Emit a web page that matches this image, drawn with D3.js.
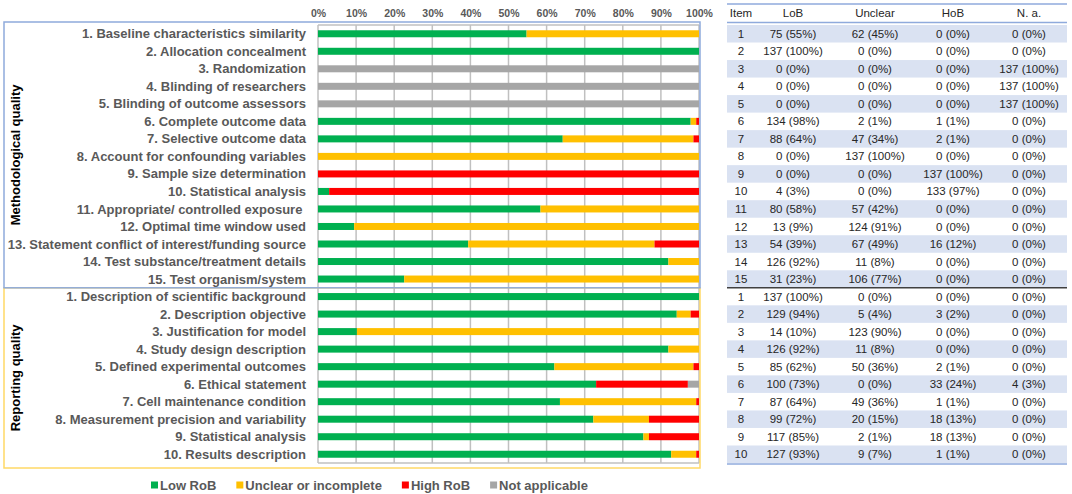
<!DOCTYPE html>
<html>
  <head>
    <meta http-equiv="Content-Type" content="text/html;charset=utf-8"/>
    <title>Risk of bias</title>
    <script src="https://d3js.org/d3.v7.min.js"></script>
    <style>
      body { margin: 0; background: #fff; }
      svg text { font-family: "Liberation Sans", Arial, sans-serif; }
    </style>
  </head>
  <body>
    <div id="content"></div>
    <script type="text/javascript">

      const total = 137

      const methItems = [
        '1. Baseline characteristics similarity',
        '2. Allocation concealment',
        '3. Randomization',
        '4. Blinding of researchers',
        '5. Blinding of outcome assessors',
        '6. Complete outcome data',
        '7. Selective outcome data',
        '8. Account for confounding variables',
        '9. Sample size determination',
        '10. Statistical analysis',
        '11. Appropriate/ controlled exposure ',
        '12. Optimal time window used',
        '13. Statement conflict of interest/funding source',
        '14. Test substance/treatment details',
        '15. Test organism/system'
      ]
      const repItems = [
        '1. Description of scientific background',
        '2. Description objective',
        '3. Justification for model',
        '4. Study design description',
        '5. Defined experimental outcomes',
        '6. Ethical statement',
        '7. Cell maintenance condition',
        '8. Measurement precision and variability',
        '9. Statistical analysis',
        '10. Results description'
      ]

      // counts per item, methodological 1-15 then reporting 1-10
      const lowRoB  = [75, 137, 0, 0, 0, 134, 88, 0, 0, 4, 80, 13, 54, 126, 31,
                       137, 129, 14, 126, 85, 100, 87, 99, 117, 127]
      const unclear = [62, 0, 0, 0, 0, 2, 47, 137, 0, 0, 57, 124, 67, 11, 106,
                       0, 5, 123, 11, 50, 0, 49, 20, 2, 9]
      const highRoB = [0, 0, 0, 0, 0, 1, 2, 0, 137, 133, 0, 0, 16, 0, 0,
                       0, 3, 0, 0, 2, 33, 1, 18, 18, 1]
      const notAppl = [0, 0, 137, 137, 137, 0, 0, 0, 0, 0, 0, 0, 0, 0, 0,
                       0, 0, 0, 0, 0, 4, 0, 0, 0, 0]

      const xTicks = [0, 0.1, 0.2, 0.3, 0.4, 0.5, 0.6, 0.7, 0.8, 0.9, 1]
      const legendNames = ['Low RoB', 'Unclear or incomplete', 'High RoB', 'Not applicable']
      const tableHeads = ['Item', 'LoB', 'Unclear', 'HoB', 'N. a.']

      const keys = ['low', 'unclear', 'high', 'na']
      const colors = { low: '#00b050', unclear: '#ffc000', high: '#ff0000', na: '#a6a6a6' }

      const rows = methItems.concat(repItems).map((name, i) => ({
        name: name,
        item: i < methItems.length ? i + 1 : i - methItems.length + 1,
        low: lowRoB[i], unclear: unclear[i], high: highRoB[i], na: notAppl[i]
      }))

      const width = 1072, height = 494
      const plotLeft = 318, plotRight = 699, plotTop = 25, plotBottom = 463
      const labelGray = '#595959'

      const svg = d3.select('#content').append('svg').attr('width', width).attr('height', height)

      const x = d3.scaleLinear().domain([0, 1]).range([plotLeft, plotRight])
      const y = d3.scaleBand().domain(d3.range(rows.length)).range([plotTop, plotBottom])
      const barH = 7

      // grid
      svg.append('g').selectAll('line')
        .data(xTicks)
        .enter()
        .append('line')
        .attr('x1', d => x(d)).attr('x2', d => x(d))
        .attr('y1', plotTop).attr('y2', plotBottom)
        .attr('stroke', '#c0c0c0').attr('stroke-width', 1.5)
      svg.append('line')
        .attr('x1', plotLeft).attr('x2', plotRight)
        .attr('y1', plotTop).attr('y2', plotTop)
        .attr('stroke', '#c0c0c0').attr('stroke-width', 1.5)
      svg.append('line')
        .attr('x1', plotLeft).attr('x2', plotRight)
        .attr('y1', plotBottom).attr('y2', plotBottom)
        .attr('stroke', '#c0c0c0').attr('stroke-width', 1.5)

      // top axis
      const xAxis = d3.axisTop(x).tickValues(xTicks).tickFormat(d3.format('.0%')).tickSize(0).tickPadding(0)
      const axisG = svg.append('g').attr('transform', 'translate(0,17)').call(xAxis)
      axisG.select('.domain').remove()
      axisG.selectAll('text')
        .attr('font-family', '"Liberation Sans", Arial, sans-serif')
        .attr('font-size', 10.5).attr('font-weight', 'bold').attr('fill', labelGray)

      // stacked bars
      const series = d3.stack().keys(keys).value((d, k) => d[k] / total)(rows)
      svg.append('g').selectAll('g')
        .data(series)
        .enter()
        .append('g')
        .attr('fill', s => colors[s.key])
        .selectAll('rect')
        .data(s => s)
        .enter()
        .append('rect')
        .attr('x', d => x(d[0]))
        .attr('width', d => Math.max(0, x(d[1]) - x(d[0])))
        .attr('y', (d, i) => y(i) + y.bandwidth() / 2 - barH / 2)
        .attr('height', barH)

      // row labels
      svg.append('g').selectAll('text')
        .data(rows)
        .enter()
        .append('text')
        .attr('x', 306)
        .attr('y', (d, i) => y(i) + y.bandwidth() / 2)
        .attr('dy', '0.35em')
        .attr('text-anchor', 'end')
        .attr('font-size', 13).attr('font-weight', 'bold').attr('fill', labelGray)
        .style('white-space', 'pre')
        .text(d => d.name)

      // section frames
      const methBottom = y(methItems.length)
      svg.append('rect')
        .attr('x', 4).attr('y', methBottom).attr('width', 696).attr('height', 468 - methBottom)
        .attr('fill', 'none').attr('stroke', '#ffd966').attr('stroke-width', 1.5)
      svg.append('rect')
        .attr('x', 4).attr('y', 22).attr('width', 696).attr('height', methBottom - 22)
        .attr('fill', 'none').attr('stroke', '#8faadc').attr('stroke-width', 1.5)

      const sections = [
        { name: 'Methodological quality', y0: 22, y1: methBottom },
        { name: 'Reporting quality', y0: methBottom, y1: 468 }
      ]
      svg.append('g').selectAll('text')
        .data(sections)
        .enter()
        .append('text')
        .attr('transform', d => 'translate(15,' + (d.y0 + d.y1) / 2 + ') rotate(-90)')
        .attr('dy', '0.35em')
        .attr('text-anchor', 'middle')
        .attr('font-size', 13).attr('font-weight', 'bold').attr('fill', '#000')
        .text(d => d.name)

      // legend
      const legend = svg.append('g').attr('transform', 'translate(151,485)')
      let lx = 0
      legendNames.forEach((name, i) => {
        legend.append('rect')
          .attr('x', lx).attr('y', -3.5).attr('width', 7).attr('height', 7)
          .attr('fill', colors[keys[i]])
        const t = legend.append('text')
          .attr('x', lx + 9).attr('dy', '0.35em')
          .attr('font-size', 13).attr('font-weight', 'bold').attr('fill', labelGray)
          .text(name)
        lx += 9 + t.node().getComputedTextLength() + 20
      })

      // table
      const tableLeft = 727, tableRight = 1067
      const colX = [741, 793, 875, 953, 1029]
      const tableG = svg.append('g')

      tableG.selectAll('rect')
        .data(rows)
        .enter()
        .append('rect')
        .filter((d, i) => (i < methItems.length ? i % 2 === 0 : (i - methItems.length) % 2 === 1))
        .attr('x', tableLeft).attr('width', tableRight - tableLeft)
        .attr('y', (d, i) => y(rows.indexOf(d)))
        .attr('height', y.bandwidth())
        .attr('fill', '#dae2f2')

      tableG.selectAll('text.head')
        .data(tableHeads)
        .enter()
        .append('text')
        .attr('class', 'head')
        .attr('x', (d, i) => colX[i])
        .attr('y', 13)
        .attr('dy', '0.35em')
        .attr('text-anchor', 'middle')
        .attr('font-size', 11.5).attr('fill', '#262626')
        .text(d => d)

      const cell = n => n + ' (' + Math.round(n / total * 100) + '%)'
      rows.forEach((r, i) => {
        const vals = [r.item, cell(r.low), cell(r.unclear), cell(r.high), cell(r.na)]
        tableG.append('g').selectAll('text')
          .data(vals)
          .enter()
          .append('text')
          .attr('x', (d, j) => colX[j])
          .attr('y', y(i) + y.bandwidth() / 2)
          .attr('dy', '0.35em')
          .attr('text-anchor', 'middle')
          .attr('font-size', 11.5).attr('fill', '#262626')
          .text(d => d)
      })

      const tableLines = [
        { y: 4, c: '#8faadc' },
        { y: 22.5, c: '#8faadc' },
        { y: methBottom, c: '#404040' },
        { y: plotBottom + 1, c: '#8faadc' }
      ]
      tableG.selectAll('line')
        .data(tableLines)
        .enter()
        .append('line')
        .attr('x1', tableLeft).attr('x2', tableRight)
        .attr('y1', d => d.y).attr('y2', d => d.y)
        .attr('stroke', d => d.c).attr('stroke-width', 1.5)

    </script>
  </body>
</html>
